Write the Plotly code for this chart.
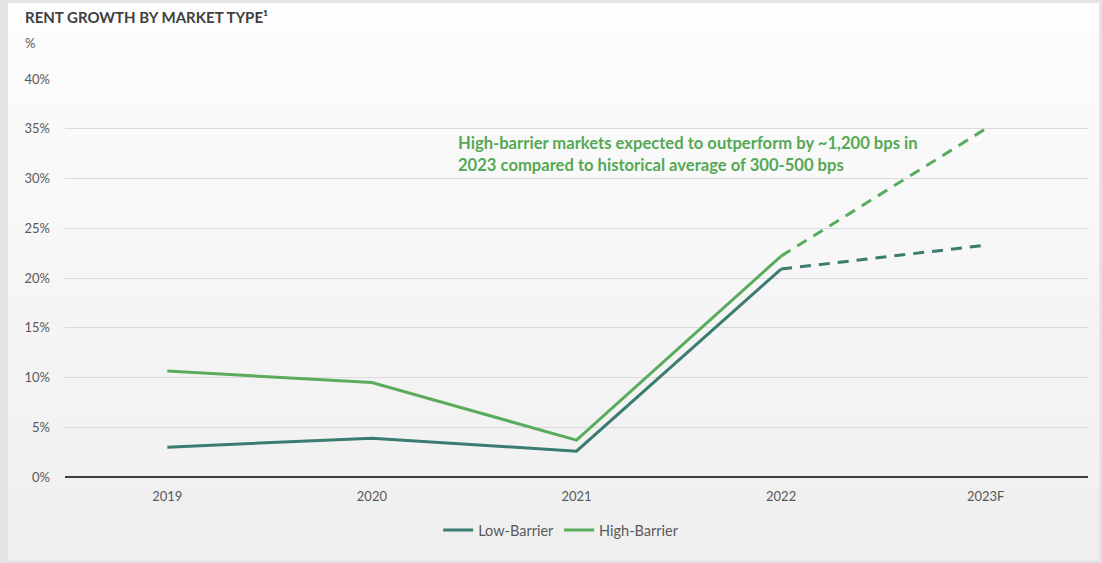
import plotly.graph_objects as go

# Rent growth by market type (%), 2023 is a forecast
years = ["2019", "2020", "2021", "2022", "2023F"]
low_barrier = [3.0, 3.9, 2.6, 20.9, 23.3]
high_barrier = [10.65, 9.5, 3.7, 22.2, 35.0]
y_ticks = [0, 5, 10, 15, 20, 25, 30, 35, 40]
y_tick_labels = [f"{v}%" for v in y_ticks]

LOW_COLOR = "#3b7b70"
HIGH_COLOR = "#5aab5c"
NOTE_COLOR = "#55a854"
FONT = "Lato, 'Open Sans', sans-serif"

W, H = 1102, 563
ML, MR, MT, MB = 65, 14, 79, 86
PW, PH = W - ML - MR, H - MT - MB


def px_x(px):
    return (px - ML) / PW


def px_y(py):
    return (H - MB - py) / PH


fig = go.Figure()

# actual values through 2022
fig.add_trace(go.Scatter(x=years[:4], y=low_barrier[:4], mode="lines", name="Low-Barrier",
                         line=dict(color=LOW_COLOR, width=3), legendgroup="low"))
fig.add_trace(go.Scatter(x=years[:4], y=high_barrier[:4], mode="lines", name="High-Barrier",
                         line=dict(color=HIGH_COLOR, width=3), legendgroup="high"))
# forecast segments, dashed
fig.add_trace(go.Scatter(x=years[3:], y=low_barrier[3:], mode="lines", showlegend=False,
                         line=dict(color=LOW_COLOR, width=3, dash="11px,8px"), legendgroup="low"))
fig.add_trace(go.Scatter(x=years[3:], y=high_barrier[3:], mode="lines", showlegend=False,
                         line=dict(color=HIGH_COLOR, width=3, dash="11px,8px"), legendgroup="high"))

# card background: grey frame, then a soft top-to-bottom gradient in bands
shapes = [dict(type="rect", xref="paper", yref="paper", x0=px_x(0), x1=px_x(W),
               y0=px_y(H), y1=px_y(0), line=dict(width=0), fillcolor="#e4e4e4", layer="below")]
top, bottom = 3, H - 3
n_bands = 40
for i in range(n_bands):
    y0 = top + (bottom - top) * i / n_bands
    y1 = top + (bottom - top) * (i + 1) / n_bands
    t = i / (n_bands - 1)
    c = round(253 - (253 - 239) * t)
    shapes.append(dict(type="rect", xref="paper", yref="paper", x0=px_x(8), x1=px_x(W - 3),
                       y0=px_y(y1 + 0.5), y1=px_y(y0), line=dict(width=0),
                       fillcolor=f"rgb({c},{c},{c})", layer="below"))

fig.update_layout(
    width=W, height=H,
    margin=dict(l=ML, r=MR, t=MT, b=MB),
    paper_bgcolor="#f6f6f6",
    plot_bgcolor="rgba(0,0,0,0)",
    font=dict(family=FONT, color="#595959", size=13),
    showlegend=True,
    legend=dict(orientation="h", x=0.485, xanchor="center", y=px_y(530), yanchor="middle",
                font=dict(size=14.5, color="#595959"), bgcolor="rgba(0,0,0,0)",
                itemwidth=30, tracegroupgap=0),
    xaxis=dict(type="category", range=[-0.5, 4.5], showgrid=False, zeroline=False,
               showline=False, ticks="", tickfont=dict(size=13, color="#595959"),
               ticklabelstandoff=10, fixedrange=True),
    yaxis=dict(range=[0, 40], tickvals=y_ticks, ticktext=y_tick_labels, showgrid=True,
               gridcolor="#dadada", gridwidth=1, zeroline=True, zerolinecolor="#3f3f3f",
               zerolinewidth=1.5, showline=False, ticks="", ticklabelstandoff=14,
               tickfont=dict(size=13, color="#595959"), fixedrange=True),
    shapes=shapes,
    annotations=[
        dict(text="<b>RENT GROWTH BY MARKET TYPE¹</b>", xref="paper", yref="paper",
             x=px_x(23), y=px_y(17), xanchor="left", yanchor="middle", showarrow=False,
             font=dict(size=15, color="#404040")),
        dict(text="%", xref="paper", yref="paper", x=px_x(23), y=px_y(43), xanchor="left",
             yanchor="middle", showarrow=False, font=dict(size=13, color="#595959")),
        dict(text="<b>High-barrier markets expected to outperform by ~1,200 bps in<br>"
                  "2023 compared to historical average of 300-500 bps</b>",
             xref="paper", yref="paper", x=px_x(456), y=px_y(154), xanchor="left",
             yanchor="middle", align="left", showarrow=False,
             font=dict(size=16.6, color=NOTE_COLOR)),
    ],
)

fig.write_html("out.html")
